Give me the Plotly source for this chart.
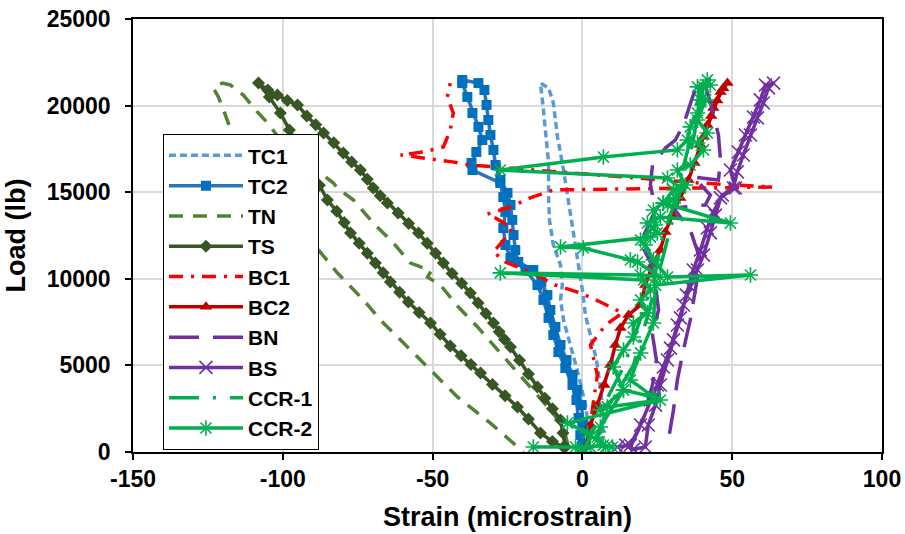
import plotly.graph_objects as go

# ---------------- data (strain in microstrain, load in lb) ----------------
tc1_x = [2.7, 1.0, -1.3, -4.0, -6.3, -7.3, -6.7, -7.3, -9.7, -11.0, -11.3, -11.3, -12.0, -13.0, -14.0, -11.3,
         -9.7, -8.3, -6.3, -4.7, -3.3, -1.7, 0.0, 1.0, 2.7, 4.7, 6.0, 7.0, 6.7]
tc1_y = [690, 2710, 4450, 6180, 7620, 8780, 9640, 10800, 11950, 13400, 14720, 16690, 18190, 19750, 21300, 21020,
         20150, 18190, 16280, 14550, 13110, 11380, 9350, 7910, 6760, 5310, 3750, 2140, 690]

tc2_x = [0.0, 0.3, -0.3, -1.7, -3.3, -5.3, -7.3, -9.0, -10.7, -11.7, -13.7, -16.4, -21.4, -22.4, -23.0, -23.4,
         -24.0, -25.0, -27.4, -29.0, -29.7, -30.7, -31.4, -32.0, -32.7, -34.7, -40.1,
         -40.1, -38.4, -36.7, -34.7, -33.4, -35.4, -37.0, -36.7, -27.4, -26.4, -25.7, -26.4, -25.7, -24.0,
         -19.0, -15.0, -13.0, -11.3, -9.7, -8.0, -5.7, -3.3, -2.0, -1.3, -0.7, -0.3]
tc2_y = [400, 1560, 2710, 3580, 4450, 5310, 6180, 7220, 8200, 9060, 9820, 10510, 10970, 11660, 12530, 13400,
         14260, 14960, 15700, 16570, 17440, 18300, 19170, 20040, 20900, 21300, 21480,
         21300, 20500, 19570, 18770, 18010, 17320, 16690, 16280, 15530, 14720, 13860, 12930, 11950, 11200,
         10510, 9640, 8780, 7740, 6760, 5770, 4850, 3870, 3000, 1960, 980, 290]

tn_x = [-4.7, -6.3, -10.7, -17.4, -24.0, -28.4, -35.0, -41.4, -47.4, -51.7, -50.5, -55.7, -57.4, -63.1, -69.8,
        -76.4, -81.8, -83.1, -92.0, -101.5, -105.1, -109.1, -113.2, -117.5, -120.2, -123.2, -121.5, -119.8,
        -116.5, -107.5, -99.1, -90.8, -81.8, -73.1, -67.4, -60.7, -53.1, -41.7, -30.7, -23.0, -19.7]
tn_y = [290, 1440, 2430, 3750, 5020, 5890, 7220, 8370, 9640, 10100, 10450, 10800, 10910, 12070, 13220,
        14550, 15240, 15530, 16700, 18190, 19000, 19750, 20610, 21190, 21300, 21020, 20500, 19750,
        18190, 16280, 14260, 12240, 10340, 8780, 7620, 6470, 5140, 3180, 1670, 520, 0]

ts_x = [-5.7, -6.5, -7.3, -10.0, -12.5, -15.0, -18.0, -21.0, -24.0, -26.0, -27.8, -29.7, -32.2, -34.8, -37.4,
        -40.3, -43.5, -46.4, -49.0, -51.8, -54.7, -58.0, -61.5, -65.1, -67.5, -69.8, -71.8, -74.1, -77.0,
        -79.8, -83.0, -86.4, -89.0, -92.0, -95.1, -98.5, -101.8, -105.0, -108.1,
        -104.5, -100.8, -97.8, -95.5, -93.0, -90.5, -87.8, -85.1, -82.0, -79.5, -77.4, -74.5, -71.8, -69.1,
        -66.5, -64.1, -61.0, -58.1, -54.5, -50.7, -47.5, -44.1, -40.5, -37.2, -34.0, -30.0, -25.8, -21.7,
        -18.0, -14.0, -10.0, -6.3]
ts_y = [290, 1100, 1850, 2500, 3100, 3750, 4500, 5300, 6060, 6500, 6950, 7450, 8000, 8600, 9180,
        9750, 10300, 10910, 11480, 12050, 12650, 13200, 13800, 14380, 14800, 15240, 15750, 16280, 16750,
        17260, 17850, 18420, 18900, 19400, 20040, 20300, 20610, 20900, 21300,
        20500, 19570, 18590, 17900, 17100, 16300, 15400, 14550, 13900, 13250, 12650, 12050, 11480, 10910,
        10350, 9820, 9230, 8660, 8050, 7450, 6800, 6120, 5550, 5050, 4560, 3900, 3250, 2600,
        1900, 1100, 600, 290]

bc1_x = [2.0, 3.3, 5.0, 2.7, 7.7, 13.4, 6.0, -0.7, -9.0, -17.4, -25.7, -29.7, -25.7, -23.4, -29.0, -31.7,
         -24.0, -17.4, -9.7, 22.7, 63.4, 39.4, 12.7, -10.7, -37.4, -43.4, -60.7, -53.1, -46.4, -44.1, -43.1,
         -45.1, -44.1]
bc1_y = [290, 2430, 4450, 6180, 7330, 8030, 8660, 9180, 9640, 10390, 10970, 11550, 12360, 12930, 13510, 13740,
         14150, 14670, 15130, 15190, 15300, 15530, 15880, 16170, 16570, 16750, 17150, 17320, 17610, 18590, 19570,
         20500, 21300]

bc2_x = [1.0, 2.7, 5.0, 7.3, 9.3, 11.0, 12.7, 15.4, 19.4, 21.0, 23.4, 26.0, 27.7, 30.0, 32.7, 35.4, 37.4,
         39.4, 41.7, 43.7, 46.1, 48.4, 47.0, 45.0, 43.0, 40.5]
bc2_y = [290, 1560, 2710, 3870, 5020, 6180, 7160, 7910, 8490, 9640, 10800, 11660, 12700, 13680, 14670, 15700, 16690,
         17730, 18880, 19860, 20790, 21300, 21000, 20300, 19400, 18200]

bn_x = [16.0, 18.7, 21.0, 23.4, 24.7, 23.4, 25.4, 24.4, 22.7, 19.4, 21.0, 24.4, 22.7, 23.4, 27.7, 31.0, 33.7,
        35.4, 37.0, 38.4, 41.0, 43.4, 45.4, 46.1, 45.4, 37.0, 42.7, 41.0, 30.4, 36.0, 39.4, 37.7, 36.0, 33.7,
        31.7, 30.4, 28.7]
bn_y = [290, 1270, 2430, 3870, 5310, 6760, 8200, 9640, 10970, 12070, 12700, 13970, 15420, 16570, 17550, 18010,
        18880, 19860, 20610, 21190, 21190, 19750, 18300, 16860, 15700, 15880, 14840, 14260, 14090, 12820, 11090,
        9350, 7620, 5890, 4160, 2430, 690]

bs_x = [11.7, 16.0, 19.4, 22.7, 25.0, 27.0, 29.4, 31.7, 33.7, 36.0, 38.4, 40.4, 42.7, 44.4, 46.1, 50.4, 51.7,
        53.7, 56.1, 58.4, 60.4, 62.1, 63.8, 61.1, 59.4, 57.1, 54.4, 52.0, 49.4, 51.1, 46.7, 43.7, 41.7, 39.4,
        37.0, 34.7, 32.7, 30.4, 28.4, 26.0, 24.4, 22.0, 21.0, 17.0, 14.5]
bs_y = [290, 400, 1560, 3000, 3870, 4910, 6000, 7330, 8490, 9530, 10510, 11370, 12650, 13680, 14670, 15240, 16170,
        17150, 18300, 19290, 20150, 21020, 21300, 21190, 20330, 19340, 18300, 17320, 16280, 15240, 14840, 13860,
        12930, 11660, 10510, 9060, 7740, 6470, 5310, 3870, 2710, 1560, 290, 150, 400]

ccr1_x = [0.0, 3.0, 8.0, 14.0, 20.0, 24.0, 26.0, 30.0, 33.0, 36.0, 38.0, 40.0, 39.0, 37.0, 34.0, 31.0, 28.0,
          25.0, 22.0, 17.0, 10.0, 5.0, 3.0]
ccr1_y = [0, 1000, 3000, 5000, 8000, 10000, 12000, 14000, 16000, 18000, 20000, 21300, 20000, 18000, 16000, 14000,
          12000, 10000, 8000, 5000, 3000, 1000, 0]

ccr2_x = [0.0, -2.3, -16.4, 2.7, 7.0, 1.7, -5.0, 26.0, 8.3, 6.0, 13.7, 10.3, 13.7, 17.0, 17.0, 21.7, 19.4,
          22.7, 20.4, -27.4, 19.4, 26.0, 18.4, 16.0, 0.3, -7.3, 22.7, 25.0, 21.7, 26.0, 49.4, 28.4, 27.0, 30.4,
          32.7, 28.4, -27.4, 7.0, 31.7, 35.0, 36.0, 38.4, 39.4, 40.4, 41.7,
          42.7, 38.4, 41.1, 38.4, 41.7, 38.4, 40.4, 36.0, 31.7, 34.4, 31.0, 27.0, 23.7, 24.4, 19.4, 21.0, 23.7,
          28.4, 56.1, 24.4, 23.7, 19.4, 16.0, 23.7, 13.7, 6.0, 5.0, 7.7, 10.0]
ccr2_y = [0, 290, 290, 290, 400, 1100, 1670, 3000, 2600, 2430, 3580, 4910, 5890, 6640, 7450, 8030, 8780,
          9350, 9930, 10340, 10220, 10100, 10970, 11090, 11780, 11840, 12410, 12650, 13220, 13570, 13220, 14260,
          14380, 15130, 15240, 15820, 16280, 17030, 17440, 18010, 18770, 19570, 20330, 21080, 21480,
          21190, 21080, 20330, 19170, 18420, 17840, 17440, 16570, 16280, 15420, 14670, 14380, 13970, 13110,
          12240, 11950, 11090, 10100, 10220, 9640, 7450, 5720, 4160, 3180, 3580, 1440, 870, 290, 290]

x_tick_vals = [-150, -100, -50, 0, 50, 100]
x_tick_text = ["-150", "-100", "-50", "0", "50", "100"]
y_tick_vals = [0, 5000, 10000, 15000, 20000, 25000]
y_tick_text = ["0", "5000", "10000", "15000", "20000", "25000"]

# ---------------- figure ----------------
fig = go.Figure()

fig.add_trace(go.Scatter(x=tc1_x, y=tc1_y, name="TC1", mode="lines",
                         line=dict(color="#5B9BD5", width=3.5, dash="7px,4px")))
fig.add_trace(go.Scatter(x=tc2_x, y=tc2_y, name="TC2", mode="lines+markers",
                         line=dict(color="#2E75B6", width=3.5),
                         marker=dict(symbol="square", size=10, color="#0070C0")))
fig.add_trace(go.Scatter(x=tn_x, y=tn_y, name="TN", mode="lines",
                         line=dict(color="#548235", width=3.5, dash="14px,10px")))
fig.add_trace(go.Scatter(x=ts_x, y=ts_y, name="TS", mode="lines+markers",
                         line=dict(color="#375623", width=3.5),
                         marker=dict(symbol="diamond", size=10, color="#375623")))
fig.add_trace(go.Scatter(x=bc1_x, y=bc1_y, name="BC1", mode="lines",
                         line=dict(color="#FF0000", width=3.5, dash="14px,8px,3px,8px")))
fig.add_trace(go.Scatter(x=bc2_x, y=bc2_y, name="BC2", mode="lines+markers",
                         line=dict(color="#C00000", width=3.5),
                         marker=dict(symbol="triangle-up", size=11, color="#C00000")))
fig.add_trace(go.Scatter(x=bn_x, y=bn_y, name="BN", mode="lines",
                         line=dict(color="#7030A0", width=3.5, dash="30px,14px")))
fig.add_trace(go.Scatter(x=bs_x, y=bs_y, name="BS", mode="lines+markers",
                         line=dict(color="#7030A0", width=3.5),
                         marker=dict(symbol="x-thin-open", size=13, color="#7030A0",
                                     line=dict(width=1.6, color="#7030A0"))))
fig.add_trace(go.Scatter(x=ccr1_x, y=ccr1_y, name="CCR-1", mode="lines",
                         line=dict(color="#00B050", width=3.5, dash="30px,14px,3px,14px")))
fig.add_trace(go.Scatter(x=ccr2_x, y=ccr2_y, name="CCR-2", mode="lines+markers",
                         line=dict(color="#00B050", width=3.5),
                         marker=dict(symbol="asterisk-open", size=13, color="#00B050",
                                     line=dict(width=1.6, color="#00B050"))))

fig.update_layout(
    width=905, height=534,
    margin=dict(l=133, r=23, t=19, b=82),
    plot_bgcolor="white", paper_bgcolor="white",
    font=dict(family="Liberation Sans, Arial, sans-serif", color="black", weight="bold"),
    showlegend=True,
    legend=dict(x=0.040, y=0.734, xanchor="left", yanchor="top",
                bgcolor="white", bordercolor="black", borderwidth=1,
                font=dict(size=21, weight="bold"), itemwidth=74, tracegroupgap=0),
)
fig.update_xaxes(range=[-150, 100], tickvals=x_tick_vals, ticktext=x_tick_text, automargin=False,
                 showline=True, linecolor="black", linewidth=1.5, mirror=True,
                 ticks="outside", ticklen=6, tickcolor="black", tickwidth=1.5,
                 showgrid=True, gridcolor="#D9D9D9", gridwidth=1.5, zeroline=False,
                 tickfont=dict(size=23, weight="bold"), ticklabeloverflow="allow",
                 title=dict(text="Strain (microstrain)", font=dict(size=27, weight="bold"), standoff=16))
fig.update_yaxes(range=[0, 25000], tickvals=y_tick_vals, ticktext=y_tick_text, automargin=False,
                 showline=True, linecolor="black", linewidth=1.5, mirror=True,
                 ticks="outside", ticklen=6, tickcolor="black", tickwidth=1.5,
                 showgrid=True, gridcolor="#D9D9D9", gridwidth=1.5, zeroline=False,
                 tickfont=dict(size=23, weight="bold"), ticklabelstandoff=10, ticklabeloverflow="allow",
                 title=dict(text="Load (lb)", font=dict(size=27, weight="bold"), standoff=13))

# remove the default 8px page margin so the 905x534 figure fills the window exactly
fig.write_html("out.html", config={"displayModeBar": False},
               post_script="document.body.style.margin='0';document.body.style.overflow='hidden';")
